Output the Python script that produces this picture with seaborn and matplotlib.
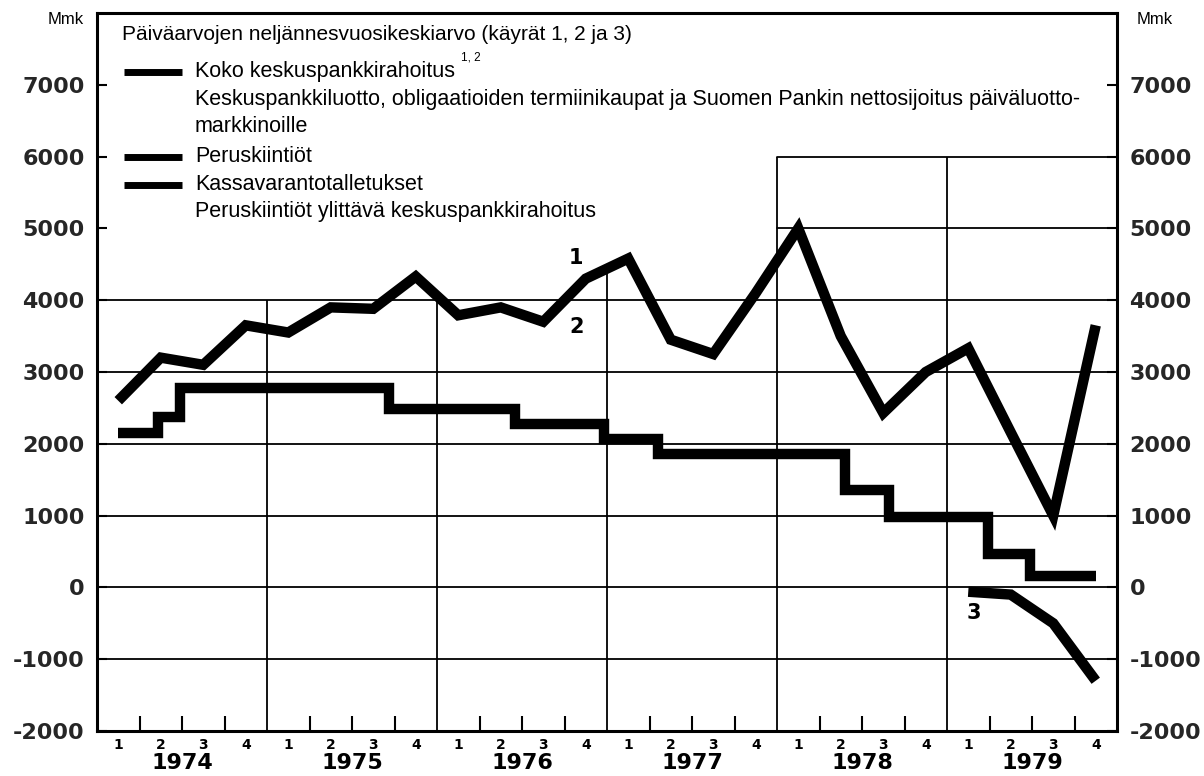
import matplotlib
matplotlib.use("Agg")
import matplotlib.pyplot as plt
import matplotlib.transforms as mtransforms
from matplotlib import font_manager
from matplotlib.lines import Line2D
import pandas as pd
import seaborn as sns

sns.set_theme(style="white")
plt.rcParams["font.family"] = ["Liberation Sans", "DejaVu Sans"]

INK = "black"
W, H = 1204, 776

# ---------------------------------------------------------------------------
# Data (Mmk) - quarterly averages of daily values
# ---------------------------------------------------------------------------
years = [1974, 1975, 1976, 1977, 1978, 1979]
quarter_labels = ["1", "2", "3", "4"]

# curve 1: total central bank financing, one value per quarter 1974 Q1 .. 1979 Q4
total_financing = [2600, 3200, 3100, 3650,
                   3550, 3900, 3880, 4330,
                   3790, 3900, 3700, 4300,
                   4580, 3450, 3250, 4100,
                   5000, 3500, 2430, 3000,
                   3330, 2160, 1000, 3650]

# curve 2: base quotas, step series (date of change as decimal year, new level)
quota_dates = [1974.125, 1974.36, 1974.49, 1975.72, 1976.46, 1976.98,
               1977.30, 1978.40, 1978.66, 1979.24, 1979.49, 1979.875]
quota_values = [2150, 2370, 2780, 2480, 2280, 2070,
                1860, 1350, 980, 460, 160, 160]

# curve 3: cash reserve deposits, 1979 Q1 .. Q4
reserve_deposits = [-60, -100, -500, -1300]

y_ticks = [-2000, -1000, 0, 1000, 2000, 3000, 4000, 5000, 6000, 7000]

legend_title = "Päiväarvojen neljännesvuosikeskiarvo (käyrät 1, 2 ja 3)"
legend_rows = [
    ("Koko keskuspankkirahoitus", True),
    ("Keskuspankkiluotto, obligaatioiden termiinikaupat ja Suomen Pankin "
     "nettosijoitus päiväluotto-", False),
    ("markkinoille", False),
    ("Peruskiintiöt", True),
    ("Kassavarantotalletukset", True),
    ("Peruskiintiöt ylittävä keskuspankkirahoitus", False),
]


def has_font(name):
    try:
        font_manager.findfont(name, fallback_to_default=False)
        return True
    except ValueError:
        return False


def fx(px):
    return px / W


def fy(py):
    return 1 - py / H


# quarter centres as decimal years
centres = [y + (q - 0.5) / 4 for y in years for q in range(1, 5)]
df_total = pd.DataFrame({"t": centres, "mmk": total_financing})
df_quota = pd.DataFrame({"t": quota_dates, "mmk": quota_values})
df_reserve = pd.DataFrame({"t": centres[-4:], "mmk": reserve_deposits})

fig = plt.figure(figsize=(W / 100, H / 100), dpi=100)
ax = fig.add_axes([fx(97), fy(731), (1117 - 97) / W, (731 - 13) / H])
ax.set_xlim(1974, 1980)
ax.set_ylim(-2000, 8000)

# grid, drawn by hand because it is only partial in the upper part
for v in range(-1000, 5000, 1000):
    ax.axhline(v, color=INK, lw=1.3, zorder=1)
for v in (5000, 6000):
    ax.axhline(v, xmin=4 / 6, xmax=1, color=INK, lw=1.3, zorder=1)
ax.vlines([1975, 1976], -2000, 4000, color=INK, lw=1.3, zorder=1)
ax.vlines([1977], -2000, 4450, color=INK, lw=1.3, zorder=1)
ax.vlines([1978, 1979], -2000, 6000, color=INK, lw=1.3, zorder=1)

line_kw = dict(color=INK, lw=7.5, solid_joinstyle="miter", solid_capstyle="butt",
               estimator=None, zorder=3)
sns.lineplot(data=df_total, x="t", y="mmk", ax=ax, **line_kw)
sns.lineplot(data=df_quota, x="t", y="mmk", ax=ax, drawstyle="steps-post", **line_kw)
sns.lineplot(data=df_reserve, x="t", y="mmk", ax=ax, **line_kw)
ax.set_xlabel("")
ax.set_ylabel("")

for s in ax.spines.values():
    s.set_visible(True)
    s.set_color(INK)
    s.set_linewidth(2.2)

# y axis, both sides
ax.set_yticks(y_ticks, labels=[str(v) for v in y_ticks],
              fontweight="bold", fontsize=16, family="DejaVu Sans")
ax.tick_params(axis="y", direction="in", length=7, width=1.5, color=INK,
               left=True, right=True, labelleft=True, labelright=True, pad=9)

# x axis: quarter numbers at centres, ticks at quarter boundaries
ax.set_xticks(centres, labels=quarter_labels * len(years),
              fontweight="bold", fontsize=10, family="DejaVu Sans")
ax.tick_params(axis="x", which="major", length=0, pad=5, labelcolor=INK)
ax.set_xticks([y + k / 4 for y in years for k in (1, 2, 3)], minor=True)
ax.tick_params(axis="x", which="minor", direction="in", length=11, width=1.5,
               color=INK, bottom=True)

if has_font("Liberation Sans Narrow"):
    year_font = dict(family="Liberation Sans Narrow", fontsize=20)
else:
    year_font = dict(family="DejaVu Sans", fontsize=16)
trans = mtransforms.blended_transform_factory(ax.transData, ax.transAxes)
for y in years:
    ax.text(y + 0.5, -0.044, str(y), transform=trans, ha="center", va="center",
            fontweight="bold", color=INK, **year_font)

# curve numbers
for tx, ty, lab in [(1976.82, 4590, "1"), (1976.82, 3620, "2"), (1979.16, -363, "3")]:
    ax.text(tx, ty, lab, fontsize=15, fontweight="bold", family="DejaVu Sans",
            ha="center", va="center", color=INK)

# unit labels
fig.text(fx(84), fy(20), "Mmk", ha="right", va="center", fontsize=12, color=INK)
fig.text(fx(1137), fy(20), "Mmk", ha="left", va="center", fontsize=12, color=INK)

# legend block inside the plot area
fig.text(fx(122), fy(35), legend_title, fontsize=15, va="center", color=INK)
row_y = [72, 100, 127, 157, 185, 212]
for (label, swatch), py in zip(legend_rows, row_y):
    t = fig.text(fx(195), fy(py), label, fontsize=15.5, va="center", color=INK)
    if swatch:
        fig.add_artist(Line2D([fx(124), fx(182)], [fy(py), fy(py)], transform=fig.transFigure,
                              color=INK, lw=5, solid_capstyle="butt"))
    if label.startswith("Koko"):
        ax.annotate("1, 2", xy=(1, 0.9), xycoords=t, xytext=(4, 0),
                    textcoords="offset points", fontsize=8.5, va="bottom", ha="left",
                    color=INK, annotation_clip=False)

fig.savefig("out.png", dpi=100)
